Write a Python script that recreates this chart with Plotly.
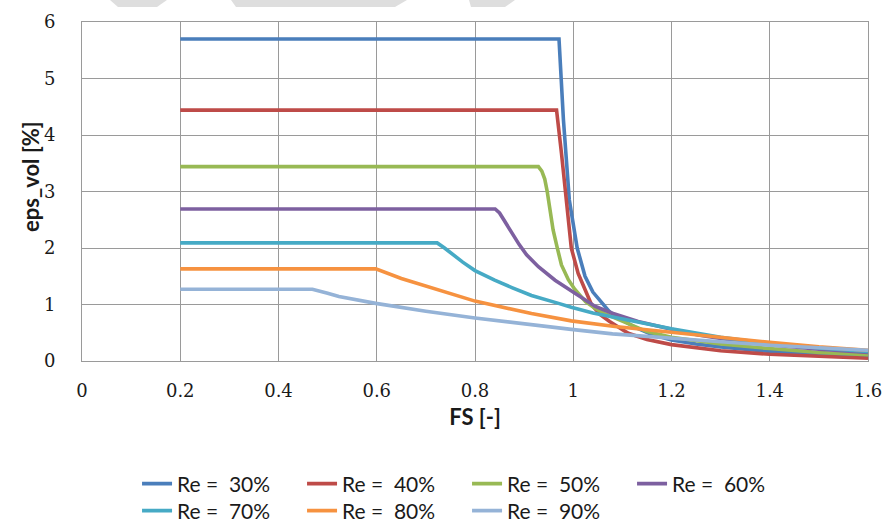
import plotly.graph_objects as go

# ---------------- data ----------------
series_names = ["Re =  30%", "Re =  40%", "Re =  50%", "Re =  60%",
                "Re =  70%", "Re =  80%", "Re =  90%"]
series_colors = ["#4A7EBB", "#BE4B48", "#98B954", "#7D60A0",
                 "#46AAC5", "#F69240", "#95B3D7"]

fs_30 = [0.2, 0.971, 0.980, 0.992, 1.008, 1.024, 1.040, 1.061, 1.074, 1.100, 1.130, 1.160, 1.200, 1.250, 1.300, 1.400, 1.500, 1.600]
ev_30 = [5.70, 5.70, 4.27, 2.85, 2.00, 1.50, 1.22, 1.00, 0.87, 0.72, 0.58, 0.47, 0.37, 0.30, 0.25, 0.17, 0.11, 0.08]

fs_40 = [0.2, 0.966, 0.976, 0.986, 0.996, 1.010, 1.037, 1.055, 1.074, 1.112, 1.150, 1.200, 1.300, 1.400, 1.500, 1.600]
ev_40 = [4.44, 4.44, 3.68, 2.85, 2.00, 1.55, 1.00, 0.82, 0.70, 0.49, 0.38, 0.29, 0.18, 0.12, 0.08, 0.05]

fs_50 = [0.2, 0.929, 0.936, 0.942, 0.947, 0.952, 0.959, 0.967, 0.976, 0.990, 1.003, 1.025, 1.045, 1.064, 1.100, 1.150, 1.200, 1.300, 1.400, 1.500, 1.600]
ev_50 = [3.44, 3.44, 3.36, 3.22, 3.00, 2.70, 2.32, 2.02, 1.70, 1.44, 1.27, 1.05, 0.93, 0.84, 0.70, 0.52, 0.42, 0.30, 0.22, 0.15, 0.11]

fs_60 = [0.2, 0.841, 0.850, 0.862, 0.875, 0.890, 0.905, 0.929, 0.963, 1.003, 1.044, 1.078, 1.132, 1.200, 1.254, 1.300, 1.400, 1.500, 1.600]
ev_60 = [2.69, 2.69, 2.62, 2.45, 2.26, 2.06, 1.88, 1.67, 1.43, 1.20, 0.97, 0.85, 0.70, 0.56, 0.46, 0.40, 0.29, 0.21, 0.15]

fs_70 = [0.2, 0.723, 0.738, 0.755, 0.775, 0.800, 0.840, 0.875, 0.915, 0.970, 0.996, 1.040, 1.085, 1.150, 1.200, 1.300, 1.400, 1.500, 1.600]
ev_70 = [2.09, 2.09, 2.00, 1.88, 1.75, 1.60, 1.43, 1.30, 1.16, 1.02, 0.95, 0.85, 0.77, 0.66, 0.57, 0.42, 0.31, 0.23, 0.17]

fs_80 = [0.2, 0.598, 0.650, 0.712, 0.800, 0.915, 0.996, 1.085, 1.152, 1.200, 1.300, 1.400, 1.500, 1.600]
ev_80 = [1.63, 1.63, 1.46, 1.29, 1.06, 0.84, 0.71, 0.61, 0.55, 0.50, 0.41, 0.33, 0.25, 0.19]

fs_90 = [0.2, 0.469, 0.500, 0.523, 0.598, 0.700, 0.800, 0.900, 0.996, 1.080, 1.152, 1.200, 1.300, 1.400, 1.500, 1.600]
ev_90 = [1.27, 1.27, 1.20, 1.14, 1.02, 0.88, 0.76, 0.65, 0.56, 0.48, 0.43, 0.40, 0.34, 0.28, 0.23, 0.19]

fs_series = [fs_30, fs_40, fs_50, fs_60, fs_70, fs_80, fs_90]
ev_series = [ev_30, ev_40, ev_50, ev_60, ev_70, ev_80, ev_90]

x_ticks = [0, 0.2, 0.4, 0.6, 0.8, 1, 1.2, 1.4, 1.6]
x_tick_labels = ["0", "0.2", "0.4", "0.6", "0.8", "1", "1.2", "1.4", "1.6"]
y_ticks = [0, 1, 2, 3, 4, 5, 6]
y_tick_labels = ["0", "1", "2", "3", "4", "5", "6"]

# ---------------- figure ----------------
W, H = 887, 523
ML, MT, PW, PH = 82, 22, 786, 339

fig = go.Figure()
for i, (name, col, xs, ys) in enumerate(zip(series_names, series_colors, fs_series, ev_series)):
    fig.add_trace(go.Scatter(
        x=xs, y=ys, mode="lines", name=name,
        line=dict(color=col, width=3.6),
        legend="legend" if i < 4 else "legend2",
    ))

grid_col = "#9A9A9A"
tick_font = dict(family="DejaVu Serif", size=18, color="#1a1a1a")
title_font = dict(family="Lato", size=22, color="#1a1a1a")
leg_font = dict(family="Lato", size=21, color="#1a1a1a")

fig.update_layout(
    width=W, height=H,
    margin=dict(l=ML, r=W - ML - PW, t=MT, b=H - MT - PH, autoexpand=False),
    paper_bgcolor="white", plot_bgcolor="white",
    showlegend=True,
    xaxis=dict(
        range=[0, 1.6], tickvals=x_ticks, ticktext=x_tick_labels,
        showgrid=True, gridcolor=grid_col, gridwidth=1,
        showline=True, linecolor=grid_col, linewidth=1, mirror=True,
        zeroline=False, automargin=False,
        ticks="outside", ticklen=13, tickcolor="rgba(0,0,0,0)",
        tickfont=tick_font,
        title=dict(text="<b>FS [-]</b>", font=title_font, standoff=10),
    ),
    yaxis=dict(
        range=[0, 6], tickvals=y_ticks, ticktext=y_tick_labels,
        showgrid=True, gridcolor=grid_col, gridwidth=1,
        showline=True, linecolor=grid_col, linewidth=1, mirror=True,
        zeroline=False, automargin=False,
        ticks="outside", ticklen=22, tickcolor="rgba(0,0,0,0)",
        tickfont=tick_font,
    ),
    legend=dict(
        orientation="h", xref="container", yref="container",
        x=0.1545, y=0.0746, xanchor="left", yanchor="middle",
        entrywidth=120, entrywidthmode="pixels",
        font=leg_font, bgcolor="rgba(0,0,0,0)", itemclick=False,
    ),
    legend2=dict(
        orientation="h", xref="container", yref="container",
        x=0.1545, y=0.0229, xanchor="left", yanchor="middle",
        entrywidth=120, entrywidthmode="pixels",
        font=leg_font, bgcolor="rgba(0,0,0,0)", itemclick=False,
    ),
)

# y-axis title placed as in the reference (slightly above the plot centre)
fig.add_annotation(
    text="<b>eps_vol [%]</b>", textangle=-90, showarrow=False,
    xref="paper", yref="paper", x=(30 - ML) / PW, y=(361 - 177) / PH,
    xanchor="center", yanchor="middle", font=title_font,
)

# faint watermark fragments along the top edge (page pixels -> paper coordinates)
def px2paper(px, py):
    return (px - ML) / PW, (MT + PH - py) / PH

for poly in [[(110, 0), (167, 0), (157, 7), (118, 7)],
             [(231, 0), (407, 0), (395, 7), (236, 7)],
             [(469, 0), (515, 0), (505, 7), (471, 7)]]:
    pts = [px2paper(a, b) for a, b in poly]
    path = "M " + " L ".join(f"{a:.4f},{b:.4f}" for a, b in pts) + " Z"
    fig.add_shape(type="path", path=path, xref="paper", yref="paper",
                  fillcolor="#DEDEDE", line=dict(width=0), layer="below")

# draw the figure flush with the page corner (no default 8px body margin)
fig.write_html(
    "out.html",
    config={"displayModeBar": False},
    post_script="document.body.style.margin='0';document.body.style.overflow='hidden';",
)
